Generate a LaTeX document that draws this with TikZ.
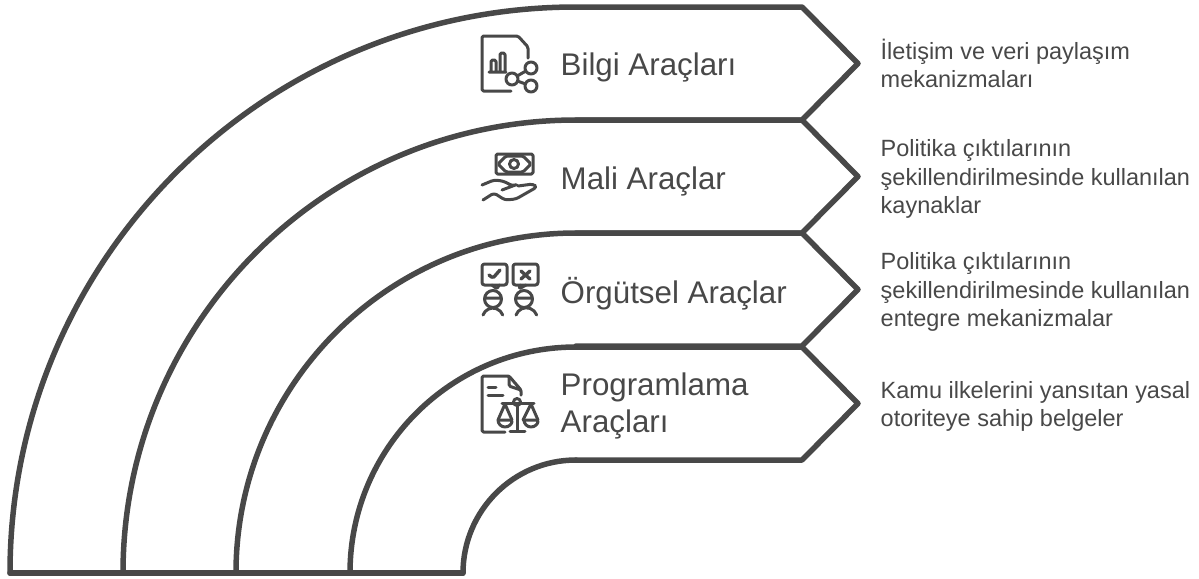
\documentclass[tikz,border=0pt]{standalone}
\usepackage{fontspec}
\setmainfont{Liberation Sans}
\usepackage{xcolor}
\usetikzlibrary{positioning}
\definecolor{inkgray}{HTML}{484848}
\def\px{0.01cm}
\tikzset{
    band/.style = {draw=inkgray, line width=5.5*\px, line join=round, line cap=round},
    icon/.style = {draw=inkgray, line width=3*\px, line join=round, line cap=round, rounded corners=1.5*\px},
    title/.style = {align=left, inner sep=0pt, anchor=west, text=inkgray, font=\fontsize{8.9}{10.6}\selectfont},
    desc/.style = {align=left, inner sep=0pt, text=inkgray, font=\fontsize{6.68}{8}\selectfont}
}
\begin{document}
\begin{tikzpicture}[x=\px,y=-\px]
    \useasboundingbox (0,0) rectangle (1199,578);
    % arc bands, outermost first
    \foreach \k/\top in {5/7,4/120,3/233,2/347}{
        \pgfmathsetmacro{\bot}{\top+113}
        \pgfmathsetmacro{\mid}{\top+56.5}
        \pgfmathsetmacro{\rad}{573-\top}
        \draw [band] (576-\rad,573) arc[start angle=180, end angle=90, radius=\rad*\px]
            -- (802,\top) -- (858,\mid) -- (802,\bot) -- (576,\bot);
    }
    \draw [band] (463,573) arc[start angle=180, end angle=90, radius=113*\px];
    \draw [band] (10,573) -- (463,573);
    \coordinate (tip1) at (858,63);
    \coordinate (tip2) at (858,179);
    \coordinate (tip3) at (858,292);
    \coordinate (tip4) at (858,406);
    % titles
    \node [title] (bilgi) at (560,67) {Bilgi Araçları};
    \node [title] (mali) at (560,181) {Mali Araçlar};
    \node [title] (orgut) at (560,294) {Örgütsel Araçlar};
    \node [title] (prog) at (560,406) {Programlama\\Araçları};
    % descriptions
    \node [desc, right=22*\px of tip1] (d1) {İletişim ve veri paylaşım\\mekanizmaları};
    \node [desc, right=22*\px of tip2] (d2) {Politika çıktılarının\\şekillendirilmesinde kullanılan\\kaynaklar};
    \node [desc, right=22*\px of tip3] (d3) {Politika çıktılarının\\şekillendirilmesinde kullanılan\\entegre mekanizmalar};
    \node [desc, right=22*\px of tip4] (d4) {Kamu ilkelerini yansıtan yasal\\otoriteye sahip belgeler};
    % icon: document with chart and share
    \draw [icon] (511,91) -- (482,91) -- (482,36) -- (518,36) -- (528,47) -- (528,58);
    \draw [icon] (489,72) -- (506,72) (491,72) -- (491,60) -- (496,60) -- (496,72) (500,72) -- (500,53) -- (505,53) -- (505,72);
    \draw [icon] (531,68) -- (512,79) -- (531,86);
    \draw [icon, fill=white] (531,68) circle[radius=6*\px] (512,79) circle[radius=6*\px] (531,86) circle[radius=6*\px];
    % icon: banknote over hand
    \draw [icon] (496,154) rectangle (533,174);
    \draw [icon] (514,164) circle[radius=4.5*\px];
    \draw [icon] (498,164) -- (506,156) -- (523,156) -- (531,164) -- (523,172) -- (506,172) -- cycle;
    \draw [icon, rounded corners=3*\px] (482,185) -- (494,180) -- (503,181) -- (513,186) -- (518,184) -- (502,190) (518,186) -- (533,184) -- (537,187) -- (516,199) -- (505,200) -- (494,193) -- (483,200);
    % icon: two people with speech bubbles
    \draw [icon, rounded corners=2.5*\px] (482,264) rectangle (507,285);
    \draw [icon] (492,285) -- (497,289) -- (499,285);
    \draw [icon, line width=3.4*\px] (489,275) -- (493,278) -- (500,270);
    \draw [icon, rounded corners=2.5*\px] (513,264) rectangle (538,285);
    \draw [icon] (520,285) -- (519,289) -- (526,285);
    \draw [icon, line width=3.4*\px] (521,271) -- (530,279) (530,271) -- (521,279);
    \draw [icon] (493,299) circle[radius=8.5*\px] (485,298) -- (501,298);
    \draw [icon] (524,299) circle[radius=8.5*\px] (516,298) -- (532,298);
    \draw [icon] (483,315) arc[start angle=160, end angle=20, radius=10.5*\px];
    \draw [icon] (516,315) arc[start angle=160, end angle=20, radius=11*\px];
    % icon: document with scales
    \draw [icon] (505,432) -- (482,432) -- (482,376) -- (509,376) -- (521,390) -- (521,395);
    \draw [icon] (509,376) -- (509,386) -- (521,390);
    \draw [icon] (488,387) -- (496,387) (488,395) -- (503,395);
    \draw [icon] (502,403) -- (534,403) (517,406) -- (517,430) (510,431) -- (525,431);
    \draw [icon] (517,402) circle[radius=3.5*\px];
    \draw [icon] (498,420) -- (505,404) -- (512,420) (523,420) -- (531,404) -- (538,420);
    \draw [icon] (498,420) -- (512,420) arc[start angle=0, end angle=-180, radius=7*\px];
    \draw [icon] (524,420) -- (538,420) arc[start angle=0, end angle=-180, radius=7*\px];
\end{tikzpicture}
\end{document}
